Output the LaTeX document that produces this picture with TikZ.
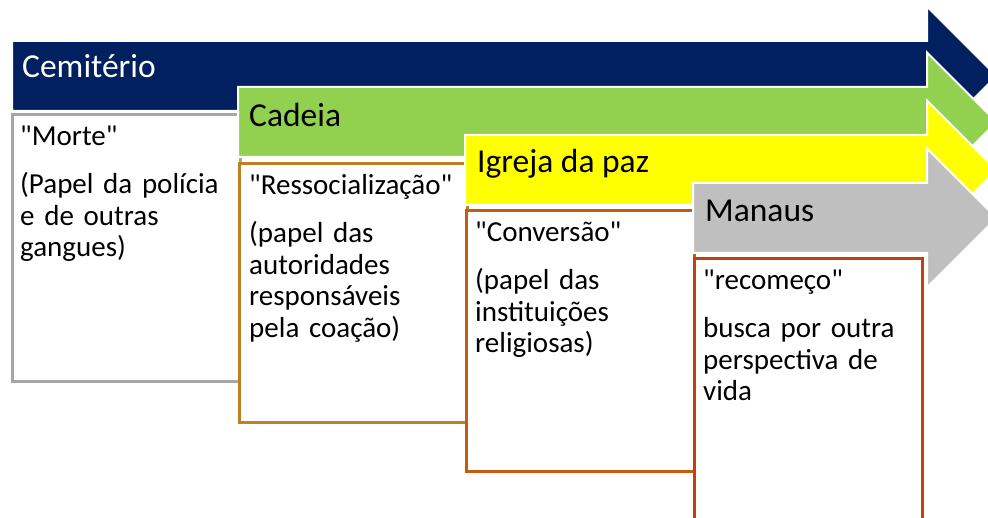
\documentclass[tikz,border=0pt]{standalone}
\usepackage{fontspec}
\setmainfont{Carlito}[Ligatures=TeXOff]
\usepackage{tikz}
\usetikzlibrary{positioning}
\definecolor{navyarrow}{RGB}{0,32,96}
\definecolor{greenarrow}{RGB}{146,208,80}
\definecolor{yellowarrow}{RGB}{255,255,0}
\definecolor{greyarrow}{RGB}{191,191,191}
\definecolor{greyborder}{RGB}{166,166,166}
\definecolor{goldborder}{RGB}{191,128,32}
\definecolor{orangeborder}{RGB}{197,90,17}
\definecolor{redborder}{RGB}{192,64,16}

\begin{document}
\begin{tikzpicture}[x=1pt, y=-1pt]

			\tikzstyle{stagearrow}=[draw=white, line width=2pt, line join=miter]
			\tikzstyle{stage}=[anchor=base west, inner sep=0pt, font=\fontsize{33.5}{40}\selectfont]
			\tikzstyle{box}=[rectangle, draw, line width=3pt, fill=white, anchor=north west, minimum width=228pt, inner sep=0pt]
			\tikzstyle{boxtext}=[anchor=base west, inner sep=0pt, text width=222pt, align=left, font=\fontsize{29}{31.5}\selectfont]

			\def \headx {34.5}
			\def \headlen {69.5}
			\def \gap {16.5pt}

			\useasboundingbox (0,0) rectangle (988,518);
			\clip (0,0) rectangle (988,518);

			% Cemiterio
			\draw[stagearrow, fill=navyarrow] (12,41) -- (927,41) -- ++(0,-\headx) -- ++(\headlen,\headlen) -- ++(-\headlen,\headlen) -- ++(0,-\headx) -- (12,111) -- cycle;
			\node at (22,78) (cemiterio) [stage, text=white] {Cemitério};
			\node at (11,113) (morte) [box, draw=greyborder, minimum height=267pt] {};
			\node at ([xshift=9pt, yshift=-33pt]morte.north west) (mortetext) [boxtext] {"Morte"\\[\gap] (Papel da polícia\\ e de outras\\ gangues)};

			% Cadeia
			\draw[stagearrow, fill=greenarrow] (238,87) -- (927,87) -- ++(0,-\headx) -- ++(\headlen,\headlen) -- ++(-\headlen,\headlen) -- ++(0,-\headx) -- (238,157) -- cycle;
			\node at (249,127) (cadeia) [stage] {Cadeia};
			\node at (238,162) (ressocializacao) [box, draw=goldborder, minimum height=259pt] {};
			\node at ([xshift=11pt, yshift=-33pt]ressocializacao.north west) (ressocializacaotext) [boxtext] {"Ressocialização"\\[\gap] (papel das\\ autoridades\\ responsáveis\\ pela coação)};

			% Igreja da paz
			\draw[stagearrow, fill=yellowarrow] (465,135) -- (927,135) -- ++(0,-\headx) -- ++(\headlen,\headlen) -- ++(-\headlen,\headlen) -- ++(0,-\headx) -- (465,205) -- cycle;
			\node at (477,173) (igreja) [stage] {Igreja da paz};
			\node at (465,209) (conversao) [box, draw=orangeborder, minimum height=261pt] {};
			\node at ([xshift=10pt, yshift=-33pt]conversao.north west) (conversaotext) [boxtext] {"Conversão"\\[\gap] (papel das\\ instituições\\ religiosas)};

			% Manaus
			\draw[stagearrow, fill=greyarrow] (693,183) -- (927,183) -- ++(0,-\headx) -- ++(\headlen,\headlen) -- ++(-\headlen,\headlen) -- ++(0,-\headx) -- (693,253) -- cycle;
			\node at (705,222) (manaus) [stage] {Manaus};
			\node at (693,257) (recomeco) [box, draw=redborder, minimum height=264pt] {};
			\node at ([xshift=10pt, yshift=-33pt]recomeco.north west) (recomecotext) [boxtext] {"recomeço"\\[\gap] busca por outra\\ perspectiva de\\ vida};

		\end{tikzpicture}
\end{document}
